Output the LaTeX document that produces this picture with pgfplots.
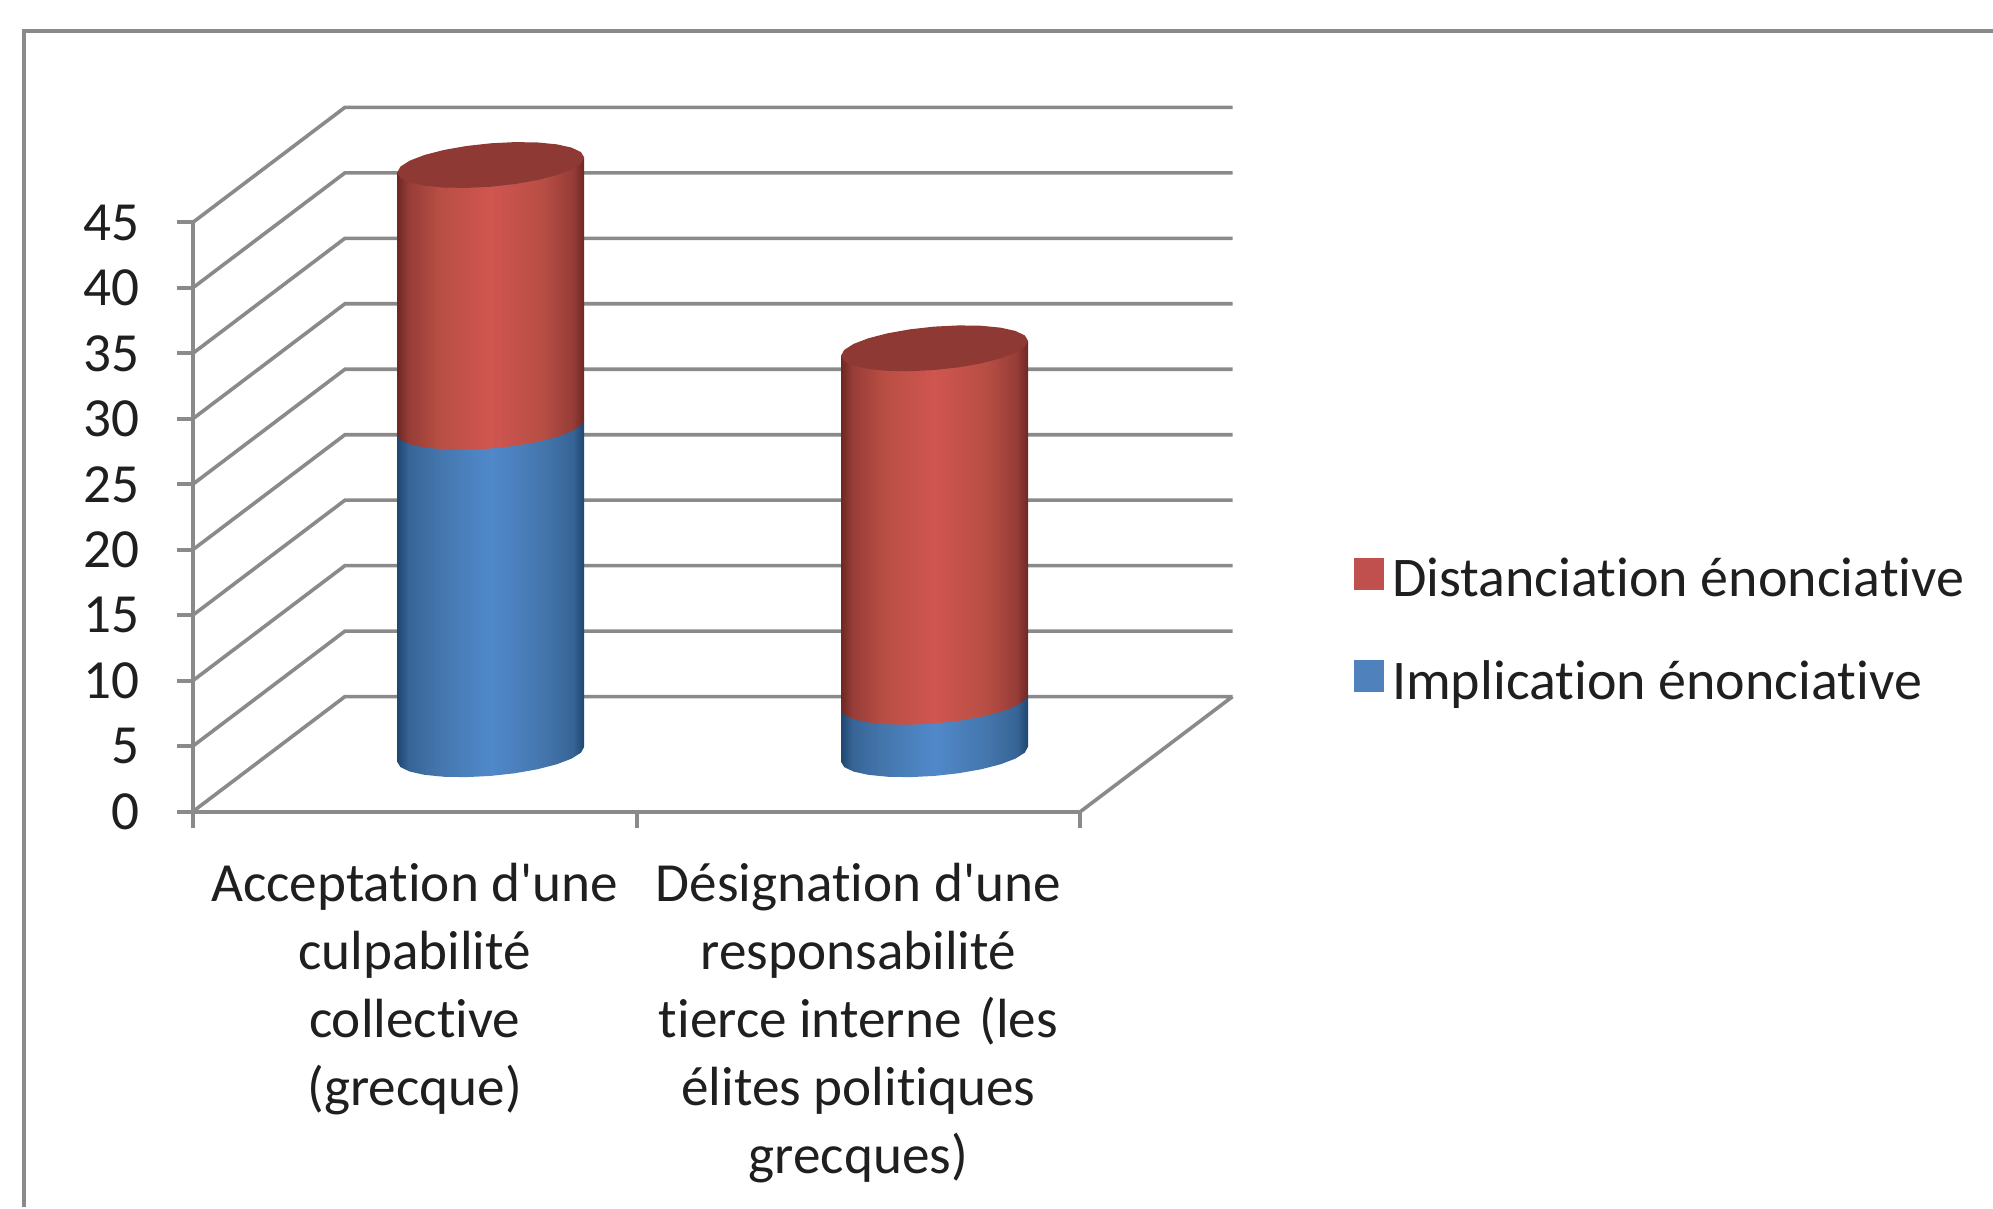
\documentclass[border=0pt]{standalone}
\usepackage{fontspec}
\setmainfont[Ligatures={TeXOff,NoCommon}]{Carlito}
\usepackage{pgfplots}
\usepackage{pgfplotstable}
\pgfplotsset{compat=1.18}

\definecolor{axisgrey}{HTML}{8A8A8A}
\definecolor{legred}{HTML}{C0504D}
\definecolor{legblue}{HTML}{4F81BD}
\definecolor{redtop}{HTML}{8E3934}
\definecolor{ra}{HTML}{6E2724}
\definecolor{rb}{HTML}{963C37}
\definecolor{rc}{HTML}{B74E44}
\definecolor{rd}{HTML}{D05650}
\definecolor{ba}{HTML}{1E4670}
\definecolor{bb}{HTML}{376496}
\definecolor{bc}{HTML}{4476AC}
\definecolor{bd}{HTML}{5089CA}

% cylinder sides, inner 25bp..75bp is what the path covers
\pgfdeclarehorizontalshading{redcyl}{100bp}{
  color(0bp)=(ra); color(25bp)=(ra); color(28bp)=(rb); color(36bp)=(rc);
  color(50bp)=(rd); color(64bp)=(rc); color(72bp)=(rb); color(75bp)=(ra);
  color(100bp)=(ra)}
\pgfdeclarehorizontalshading{bluecyl}{100bp}{
  color(0bp)=(ba); color(25bp)=(ba); color(28bp)=(bb); color(36bp)=(bc);
  color(50bp)=(bd); color(64bp)=(bc); color(72bp)=(bb); color(75bp)=(ba);
  color(100bp)=(ba)}

% outline of a cylinder side: front arc of the base, then up to the top
\pgfplotstableread{
u v h
-0.2107 -0.573 0
-0.2035 -0.9826 0
-0.1825 -1.3252 0
-0.1490 -1.5776 0
-0.1054 -1.7224 0
-0.0545 -1.7498 0
0 -1.658 0
0.0545 -1.4532 0
0.1054 -1.1494 0
0.1490 -0.7672 0
0.1825 -0.3328 0
0.2035 0.1244 0
0.2107 0.573 0
0.2107 0.573 1
-0.2107 -0.573 1
}\cylside
% top face
\pgfplotstableread{
u v
0.2107 0.573
0.2035 0.1244
0.1825 -0.3328
0.1490 -0.7672
0.1054 -1.1494
0.0545 -1.4532
0 -1.658
-0.0545 -1.7498
-0.1054 -1.7224
-0.1490 -1.5776
-0.1825 -1.3252
-0.2035 -0.9826
-0.2107 -0.573
-0.2035 -0.1244
-0.1825 0.3328
-0.1490 0.7672
-0.1054 1.1494
-0.0545 1.4532
0 1.658
0.0545 1.7498
0.1054 1.7224
0.1490 1.5776
0.1825 1.3252
0.2035 0.9826
}\cyltop

% bars sit half a depth behind the front edge
\newcommand{\cylbar}[4]{
  \addplot[forget plot, draw=none, shade, shading=#4]
    table[x expr=\thisrow{u}+#1+0.1715, y expr=\thisrow{v}+#2+4.39+\thisrow{h}*(#3-#2)] {\cylside};
}
\newcommand{\cyltopface}[3]{
  \addplot[forget plot, draw=none, fill=#3]
    table[x expr=\thisrow{u}+#1+0.1715, y expr=\thisrow{v}+#2+4.39] {\cyltop};
}

\begin{document}
\begin{tikzpicture}
\path[use as bounding box] (0,0) rectangle (498.25pt,302.25pt);
\begin{axis}[
  at={(48.175pt,99.325pt)}, anchor=south west,
  scale only axis, width=221.9pt, height=147.3pt,
  xmin=0, xmax=2, ymin=0, ymax=45,
  clip=false,
  unbounded coords=jump,
  axis lines=left,
  axis line style={-, draw=axisgrey, line width=1pt},
  every tick/.style={draw=axisgrey, line width=1pt},
  tick align=outside,
  major tick length=4pt, minor tick length=4pt,
  xtick={0.5,1.5}, minor xtick={0,1,2},
  major x tick style={draw=none},
  ytick={0,5,...,45},
  xticklabels={{Acceptation d'une\\culpabilité\\collective\\(grecque)},
               {Désignation d'une\\responsabilité\\tierce interne\hspace{0.1em} (les\\élites politiques\\grecques)}},
  /pgf/number format/assume math mode=true,
  tick label style={text=black!88, font=\fontsize{13.8}{17}\selectfont},
  xticklabel style={align=center, anchor=north, yshift=-5.25pt},
  yticklabel style={xshift=-5.7pt},
  legend style={at={(axis cs:2.617,13.77)}, anchor=west, draw=none, fill=none,
    inner sep=0pt, outer sep=0pt, font=\fontsize{14}{17}\selectfont, text=black!88,
    row sep=10.5pt, cells={anchor=west},
    /tikz/every even column/.append style={column sep=5pt}},
  legend image code/.code={\fill[#1, draw=none] (0pt,-2.4pt) rectangle (7.5pt,5.6pt);},
]
% chart frame
\addplot[forget plot, axisgrey, line width=1.1pt] coordinates {(-0.38,-30.2) (-0.38,59.64) (4.057,59.64)};
% walls and floor
\addplot[forget plot, axisgrey, line width=0.9pt, line join=miter] coordinates {
  (0,0) (0.343,8.79) (2.343,8.79) (nan,nan)
  (0,5) (0.343,13.79) (2.343,13.79) (nan,nan)
  (0,10) (0.343,18.79) (2.343,18.79) (nan,nan)
  (0,15) (0.343,23.79) (2.343,23.79) (nan,nan)
  (0,20) (0.343,28.79) (2.343,28.79) (nan,nan)
  (0,25) (0.343,33.79) (2.343,33.79) (nan,nan)
  (0,30) (0.343,38.79) (2.343,38.79) (nan,nan)
  (0,35) (0.343,43.79) (2.343,43.79) (nan,nan)
  (0,40) (0.343,48.79) (2.343,48.79) (nan,nan)
  (0,45) (0.343,53.79) (2.343,53.79) (nan,nan)
  (2,0) (2.343,8.79)
};
% bars
\cylbar{0.5}{0}{25}{bluecyl}
\cylbar{0.5}{25}{45}{redcyl}
\cyltopface{0.5}{45}{redtop}
\cylbar{1.5}{0}{4}{bluecyl}
\cylbar{1.5}{4}{31}{redcyl}
\cyltopface{1.5}{31}{redtop}
\addlegendimage{fill=legred, draw=none}
\addlegendentry{Distanciation énonciative}
\addlegendimage{fill=legblue, draw=none}
\addlegendentry{Implication énonciative}
\end{axis}
\end{tikzpicture}
\end{document}
